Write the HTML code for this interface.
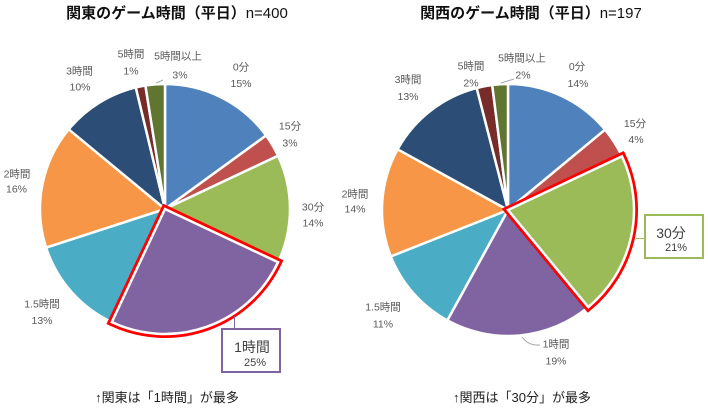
<!DOCTYPE html>
<html><head><meta charset="utf-8"><style>
html,body{margin:0;padding:0;background:#fff;}
svg{display:block;}
.t{font-family:"Liberation Sans","Noto Sans CJK JP",sans-serif;}
.lb{font-size:10.5px;fill:#595959;text-anchor:middle;}
</style></head><body>
<svg class="t" width="708" height="409" viewBox="0 0 708 409" xmlns="http://www.w3.org/2000/svg">
<rect width="708" height="409" fill="#fff"/>
<!-- Titles -->
<text x="177" y="18" text-anchor="middle" font-size="15" font-weight="bold" fill="#111">関東のゲーム時間（平日）<tspan font-weight="normal">n=400</tspan></text>
<text x="531" y="18" text-anchor="middle" font-size="15" font-weight="bold" fill="#111">関西のゲーム時間（平日）<tspan font-weight="normal">n=197</tspan></text>

<!-- LEFT PIE center (165,209) r=125 -->
<g stroke="#fff" stroke-width="2.5" stroke-linejoin="round">
<path d="M165,209 L165,84 A125,125 0 0 1 266.1,135.5 Z" fill="#4f81bd"/>
<path d="M165,209 L266.1,135.5 A125,125 0 0 1 278.1,155.8 Z" fill="#c0504d"/>
<path d="M165,209 L278.1,155.8 A125,125 0 0 1 278.1,262.2 Z" fill="#9bbb59"/>
<path d="M165,209 L111.8,322.1 A125,125 0 0 1 46.1,247.6 Z" fill="#4bacc6"/>
<path d="M165,209 L46.1,247.6 A125,125 0 0 1 68.7,129.3 Z" fill="#f79646"/>
<path d="M165,209 L68.7,129.3 A125,125 0 0 1 135.8,87.4 Z" fill="#2c4d75"/>
<path d="M165,209 L135.8,87.4 A125,125 0 0 1 145.4,85.5 Z" fill="#772c2a"/>
<path d="M165,209 L145.4,85.5 A125,125 0 0 1 165,84 Z" fill="#5f7530"/>
</g>
<path d="M165,209 L278.1,262.2 A125,125 0 0 1 111.8,322.1 Z" fill="none" stroke="#ff0000" stroke-width="8" stroke-linejoin="miter"/>
<path d="M165,209 L278.1,262.2 A125,125 0 0 1 111.8,322.1 Z" fill="#8064a2" stroke="#fff" stroke-width="2.5"/>

<!-- Left labels -->
<text class="lb" x="241" y="70.5">0分</text><text class="lb" x="241" y="87">15%</text>
<text class="lb" x="290" y="129.5">15分</text><text class="lb" x="290" y="146.5">3%</text>
<text class="lb" x="313" y="210.5">30分</text><text class="lb" x="313" y="226.5">14%</text>
<text class="lb" x="42" y="307.5">1.5時間</text><text class="lb" x="42" y="324">13%</text>
<text class="lb" x="17" y="177.5">2時間</text><text class="lb" x="16.5" y="192.5">16%</text>
<text class="lb" x="79.5" y="74.5">3時間</text><text class="lb" x="80" y="90.5">10%</text>
<text class="lb" x="131" y="57.5">5時間</text><text class="lb" x="131" y="74.5">1%</text>
<text class="lb" x="178" y="59.5">5時間以上</text><text class="lb" x="180" y="78.5">3%</text>
<path d="M156,83 L163,80" stroke="#a6a6a6" stroke-width="1" fill="none"/>
<line x1="234.5" y1="316" x2="234.5" y2="328" stroke="#8064a2" stroke-width="1"/>
<rect x="222" y="329" width="58" height="43" fill="#fff" stroke="#8064a2" stroke-width="2"/>
<text x="252" y="352" text-anchor="middle" font-size="14" fill="#404040">1時間</text>
<text x="255" y="366" text-anchor="middle" font-size="11" fill="#404040">25%</text>

<!-- RIGHT PIE center (508,210) r=126 -->
<g stroke="#fff" stroke-width="2.5" stroke-linejoin="round">
<path d="M508,210 L508,84 A126,126 0 0 1 605.1,129.7 Z" fill="#4f81bd"/>
<path d="M508,210 L605.1,129.7 A126,126 0 0 1 622,156.3 Z" fill="#c0504d"/>
<path d="M508,210 L588.3,307.1 A126,126 0 0 1 447.3,320.4 Z" fill="#8064a2"/>
<path d="M508,210 L447.3,320.4 A126,126 0 0 1 390.8,256.4 Z" fill="#4bacc6"/>
<path d="M508,210 L390.8,256.4 A126,126 0 0 1 397.6,149.3 Z" fill="#f79646"/>
<path d="M508,210 L397.6,149.3 A126,126 0 0 1 476.7,88 Z" fill="#2c4d75"/>
<path d="M508,210 L476.7,88 A126,126 0 0 1 492.2,85 Z" fill="#772c2a"/>
<path d="M508,210 L492.2,85 A126,126 0 0 1 508,84 Z" fill="#5f7530"/>
</g>
<path d="M508,210 L622,156.3 A126,126 0 0 1 588.3,307.1 Z" fill="none" stroke="#ff0000" stroke-width="8" stroke-linejoin="miter"/>
<path d="M508,210 L622,156.3 A126,126 0 0 1 588.3,307.1 Z" fill="#9bbb59" stroke="#fff" stroke-width="2.5"/>

<!-- Right labels -->
<text class="lb" x="577" y="70">0分</text><text class="lb" x="578" y="87">14%</text>
<text class="lb" x="635" y="127">15分</text><text class="lb" x="636" y="143">4%</text>
<text class="lb" x="408" y="83">3時間</text><text class="lb" x="408" y="100">13%</text>
<text class="lb" x="471" y="69.5">5時間</text><text class="lb" x="471" y="86.5">2%</text>
<text class="lb" x="522" y="61.5">5時間以上</text><text class="lb" x="523" y="78.5">2%</text>
<path d="M501,83 L514,79" stroke="#a6a6a6" stroke-width="1" fill="none"/>
<text class="lb" x="355" y="197.5">2時間</text><text class="lb" x="355" y="212.5">14%</text>
<text class="lb" x="383" y="310.5">1.5時間</text><text class="lb" x="383" y="327.5">11%</text>
<text class="lb" x="556" y="347.5">1時間</text><text class="lb" x="556" y="364.5">19%</text>
<path d="M522,337 Q527,344 535,345 L540,345" stroke="#a6a6a6" stroke-width="1" fill="none"/>
<line x1="636" y1="238.5" x2="644" y2="238.5" stroke="#9bbb59" stroke-width="1"/>
<rect x="645" y="215" width="58" height="43" fill="#fff" stroke="#9bbb59" stroke-width="2"/>
<text x="671" y="238" text-anchor="middle" font-size="14" fill="#404040">30分</text>
<text x="676" y="251" text-anchor="middle" font-size="11" fill="#404040">21%</text>

<!-- Captions -->
<text x="167" y="402" text-anchor="middle" font-size="13" fill="#222">↑関東は「1時間」が最多</text>
<text x="522" y="402" text-anchor="middle" font-size="13" fill="#222">↑関西は「30分」が最多</text>
</svg>
</body></html>
